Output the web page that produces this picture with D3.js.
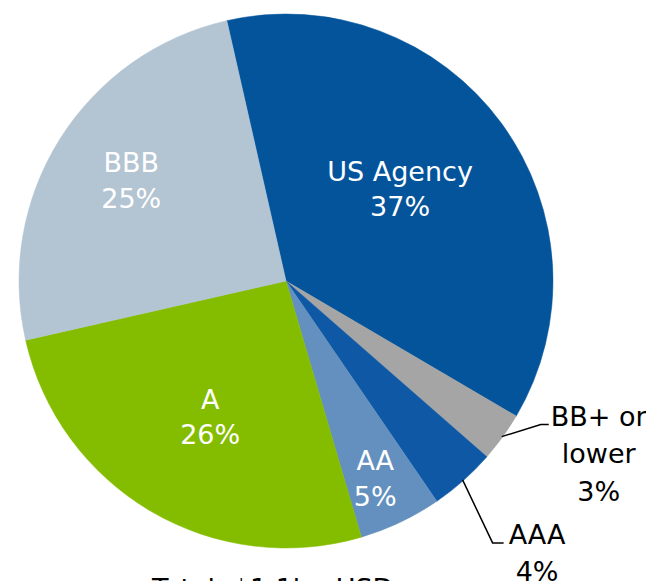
<!DOCTYPE html>
<html>
<head>
    <title>Portfolio by rating</title>
    <script src="https://d3js.org/d3.v7.min.js"></script>
    <style>
        body { margin: 0; background: #fff; }
        text { font-family: "DejaVu Sans", Verdana, sans-serif; font-size: 27px; }
        .in-label { fill: #fff; }
        .out-label { fill: #000; }
        .leader { fill: none; stroke: #000; stroke-width: 1.5; }
    </style>
</head>
<body>
    <div id="chart"></div>
    <script>
        // data
        const categories = ["US Agency", "BB+ or lower", "AAA", "AA", "A", "BBB"];
        const shares = [37, 3, 4, 5, 26, 25];
        const sliceColors = ["#03549b", "#a5a5a5", "#0e58a5", "#6390be", "#84bd00", "#b3c4d2"];
        const totalNote = "Total: $1.1bn USD";

        const width = 646, height = 581;
        const cx = 286, cy = 281, radius = 267;
        const startDeg = -12.8;

        // label placement: inside labels [radius, angle nudge in degrees]
        const insideLabel = {
            "US Agency": [147, -2.9],
            "AA": [216, 1],
            "A": [155, -1.1],
            "BBB": [185, 1]
        };
        // outside labels: knee offset from the arc edge, then a short flat run
        const outsideLabel = {
            "BB+ or lower": { knee: [39, -12], run: 8, lines: ["BB+ or", "lower"], textDx: 50 },
            "AAA": { knee: [30, 63], run: 11, lines: ["AAA"], textDx: 33.5 }
        };

        const data = categories.map((c, i) => ({ name: c, value: shares[i], color: sliceColors[i] }));

        const svg = d3.select("#chart").append("svg")
            .attr("width", width)
            .attr("height", height);

        const g = svg.append("g").attr("transform", `translate(${cx},${cy})`);

        const rad = Math.PI / 180;
        const pie = d3.pie()
            .sort(null)
            .value(d => d.value)
            .startAngle(startDeg * rad)
            .endAngle((startDeg + 360) * rad);

        const arc = d3.arc().innerRadius(0).outerRadius(radius);
        const arcs = pie(data);

        g.selectAll("path.slice")
            .data(arcs)
            .enter()
            .append("path")
            .attr("class", "slice")
            .attr("d", arc)
            .attr("fill", d => d.data.color)
            .attr("stroke", d => d.data.color)
            .attr("stroke-width", 0.5);

        const polar = (r, a) => [r * Math.sin(a), -r * Math.cos(a)];

        // labels inside the slices
        arcs.filter(d => insideLabel[d.data.name]).forEach(d => {
            const [r, nudge] = insideLabel[d.data.name];
            const mid = (d.startAngle + d.endAngle) / 2 + nudge * rad;
            const [x, y] = polar(r, mid);
            const t = g.append("text")
                .attr("class", "in-label")
                .attr("text-anchor", "middle")
                .attr("x", x)
                .attr("y", y - 7.5);
            t.append("tspan").attr("x", x).text(d.data.name);
            t.append("tspan").attr("x", x).attr("dy", 35.5).text(d.data.value + "%");
        });

        // small slices get labels outside with leader lines
        arcs.filter(d => outsideLabel[d.data.name]).forEach(d => {
            const o = outsideLabel[d.data.name];
            const mid = (d.startAngle + d.endAngle) / 2;
            const [x0, y0] = polar(radius - 1, mid);
            const kx = x0 + o.knee[0], ky = y0 + o.knee[1];
            const ex = kx + o.run;
            g.append("path")
                .attr("class", "leader")
                .attr("d", d3.line()([[x0, y0], [kx, ky], [ex, ky]]));

            const tx = ex + o.textDx;
            const t = g.append("text")
                .attr("class", "out-label")
                .attr("text-anchor", "middle")
                .attr("x", tx)
                .attr("y", ky + 1);
            o.lines.forEach((line, i) => {
                t.append("tspan").attr("x", tx).attr("dy", i === 0 ? 0 : 37.5).text(line);
            });
            t.append("tspan").attr("x", tx).attr("dy", 37.5).text(d.data.value + "%");
        });

        // total line, mostly below the visible area
        svg.append("text")
            .attr("x", 152)
            .attr("y", 598)
            .attr("fill", "#000")
            .text(totalNote);
    </script>
</body>
</html>
